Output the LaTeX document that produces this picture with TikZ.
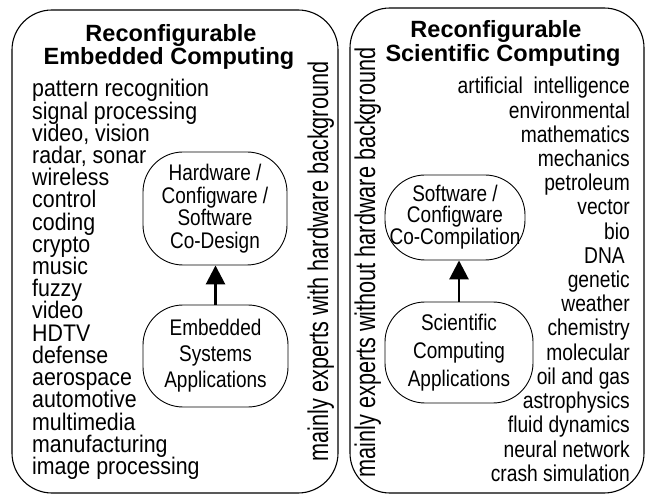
\documentclass[tikz,border=0pt]{standalone}
\usepackage{fontspec}
\setmainfont{Liberation Sans}
\newfontfamily\nrw[FakeStretch=0.84]{Liberation Sans}
\newfontfamily\nrwl[FakeStretch=0.89]{Liberation Sans}
\newfontfamily\vrt[FakeStretch=0.76]{Liberation Sans}
\usetikzlibrary{arrows.meta}
\begin{document}
\begin{tikzpicture}[x=1pt,y=-1pt,
  frame/.style={draw, line width=1.1pt, rounded corners=40pt, inner sep=0},
  ttl/.style={anchor=base, font=\bfseries\fontsize{23.5}{24}\selectfont, inner sep=0, text height=17pt, text depth=5pt},
  litem/.style={anchor=base west, font=\nrwl\fontsize{24}{22}\selectfont, inner sep=0, text height=16pt, text depth=5pt},
  ritem/.style={anchor=base east, font=\nrw\fontsize{22.9}{22}\selectfont, inner sep=0, text height=16.5pt, text depth=5pt},
  blob/.style={draw, line width=0.9pt, rounded corners=40pt, align=center, inner sep=0},
  side/.style={anchor=base, rotate=90, font=\vrt\fontsize{28.5}{28}\selectfont, inner sep=0},
  up/.style={line width=2.8pt, -{Triangle[length=19pt,width=19pt]}}]
\useasboundingbox (0,0) rectangle (648,494);
% panels
\node[frame, minimum width=326pt, minimum height=483pt] (leftpanel) at (175,251.5) {};
\node[frame, minimum width=294pt, minimum height=485pt] (rightpanel) at (497,250.5) {};
% titles
\node[ttl] (lt1) at (171,42) {Reconfigurable};
\node[ttl] (lt2) at (169,65) {Embedded Computing};
\node[ttl] (rt1) at (496,38) {Reconfigurable};
\node[ttl] (rt2) at (503,62) {Scientific Computing};
% left list
\foreach \t [count=\i] in {pattern recognition, signal processing, {video, vision}, {radar, sonar}, wireless, control, coding, crypto, music, fuzzy, video, HDTV, defense, aerospace, automotive, multimedia, manufacturing, image processing}
  \node[litem] (L\i) at (32,{97+(\i-1)*22.2}) {\t};
% right list
\foreach \t/\xx [count=\i] in {artificial~~intelligence/630, environmental/630, mathematics/630, mechanics/630, petroleum/630, vector/630, bio/630, DNA/625, genetic/630, weather/630, chemistry/630, molecular/630, oil and gas/630, astrophysics/630, fluid dynamics/630, neural network/630, crash simulation/630}
  \node[ritem] (R\i) at (\xx,{94+(\i-1)*24.2}) {\t};
% vertical texts
\node[side] (lside) at (328,261.5) {mainly experts with hardware background};
\node[side] (rside) at (375,262.5) {mainly experts without hardware background};
% nodes
\node[blob, minimum width=144pt, minimum height=113pt, font=\nrw\fontsize{22.6}{22.5}\selectfont] (LT) at (215,208.5) {Hardware /\\Configware /\\Software\\Co-Design};
\node[blob, minimum width=145pt, minimum height=102pt, font=\nrw\fontsize{22.6}{26}\selectfont] (LB) at (215.5,356) {Embedded\\Systems\\Applications};
\node[blob, minimum width=140pt, minimum height=85pt, font=\nrw\fontsize{22.6}{21}\selectfont] (RT) at (455,217.5) {Software /\\Configware\\Co-Compilation};
\node[blob, minimum width=148pt, minimum height=101pt, font=\nrw\fontsize{22.6}{28}\selectfont] (RB) at (459,352.5) {Scientific\\Computing\\Applications};
% arrows
\draw[up] (LB.north) -- (LB.north |- LT.south);
\draw[up] (RB.north) -- (RB.north |- RT.south);
\end{tikzpicture}
\end{document}
